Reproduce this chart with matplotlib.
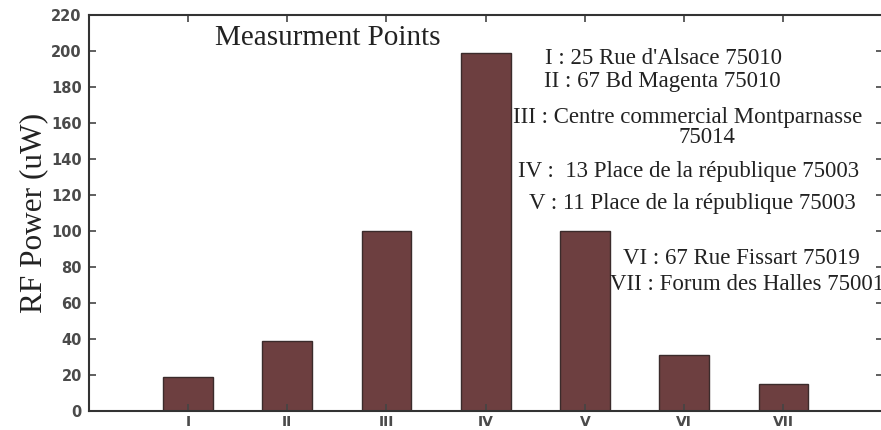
import numpy as np
import matplotlib.pyplot as plt

# Data
points = ['I', 'II', 'III', 'IV', 'V', 'VI', 'VII']
power = [19, 39, 100, 199, 100, 31, 15]

addresses = ["I : 25 Rue d'Alsace 75010",
             "II : 67 Bd Magenta 75010",
             "III : Centre commercial Montparnasse",
             "75014",
             "IV :  13 Place de la république 75003",
             "V : 11 Place de la république 75003",
             "VI : 67 Rue Fissart 75019",
             "VII : Forum des Halles 75001"]
# text anchor positions (data coords: x, y, alignment)
addr_pos = [(5.79, 196, 'center'), (5.78, 183, 'center'), (6.03, 163, 'center'),
            (6.23, 152, 'center'), (6.04, 133, 'center'), (6.08, 115.5, 'center'),
            (6.58, 85, 'center'), (5.25, 70, 'left')]

serif = ['Liberation Serif', 'DejaVu Serif']

fig = plt.figure(figsize=(8.81, 4.3), dpi=100)
ax = fig.add_axes([88.7 / 881, 19 / 430, 794 / 881, 396 / 430])

x = np.arange(1, len(points) + 1)
ax.bar(x, power, width=0.5, color='#6d3f40', edgecolor='#3b2b2b', linewidth=1.0)

ax.set_xlim(0, 8)
ax.set_ylim(0, 220)
ax.set_xticks(x)
ax.set_xticklabels(points)
ax.set_yticks(np.arange(0, 221, 20))
ax.tick_params(direction='in', length=5, width=1.2, top=True, right=True,
               labelsize=10.5, labelcolor='#4a4a4a', color='#444444', pad=5)
ax.tick_params(axis='x', pad=3, labelsize=10)
for lab in ax.get_xticklabels() + ax.get_yticklabels():
    lab.set_fontweight('bold')
for s in ax.spines.values():
    s.set_linewidth(1.5)
    s.set_color('#333333')

ax.set_ylabel('RF Power (uW)', family=serif, fontsize=22.5, color='#222222', labelpad=2)

ax.text(1.27, 207, 'Measurment Points', family=serif, fontsize=21,
        color='#222222', ha='left', va='center')
for txt, (px, py, ha) in zip(addresses, addr_pos):
    ax.text(px, py, txt, family=serif, fontsize=16.5, color='#222222',
            ha=ha, va='center')

fig.savefig('out.png', dpi=100)
